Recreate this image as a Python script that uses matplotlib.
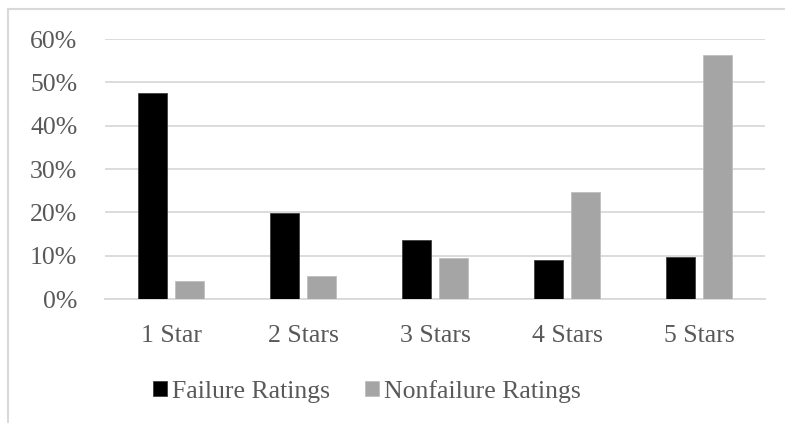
import matplotlib.pyplot as plt
import numpy as np
from matplotlib.lines import Line2D
from matplotlib.ticker import PercentFormatter

# Data
categories = ['1 Star', '2 Stars', '3 Stars', '4 Stars', '5 Stars']
failure = [0.476, 0.198, 0.136, 0.090, 0.096]
nonfailure = [0.042, 0.052, 0.094, 0.247, 0.562]

plt.rcParams['font.family'] = ['Liberation Serif', 'DejaVu Serif']

fig = plt.figure(figsize=(7.85, 4.23), dpi=100)
ax = fig.add_axes([0.1338, 0.2931, 0.8407, 0.6147])

x = np.arange(len(categories))
bar_width = 0.222
offset = 0.141

ax.bar(x - offset, failure, width=bar_width, color='black', edgecolor='#404040',
       linewidth=0.6, label='Failure Ratings', zorder=3)
ax.bar(x + offset, nonfailure, width=bar_width, color='#A5A5A5', edgecolor='#BFBFBF',
       linewidth=0.6, label='Nonfailure Ratings', zorder=3)

ax.set_xlim(-0.5, 4.5)
ax.set_ylim(0, 0.6)
ax.set_yticks(np.arange(0, 0.61, 0.1))
ax.yaxis.set_major_formatter(PercentFormatter(1.0, decimals=0))
ax.set_xticks(x)
ax.set_xticklabels(categories)

ax.grid(axis='y', color='#D9D9D9', linewidth=1.3, zorder=0)
for side in ['top', 'right', 'left']:
    ax.spines[side].set_visible(False)
ax.spines['bottom'].set_color('#D9D9D9')
ax.spines['bottom'].set_linewidth(1.3)
ax.tick_params(axis='both', length=0, labelsize=18.5, colors='#595959')
ax.tick_params(axis='y', pad=20)
ax.tick_params(axis='x', pad=19)

fig.legend(loc='center', bbox_to_anchor=(0.467, 0.075), ncol=2, frameon=False,
           fontsize=18.5, handlelength=0.55, handleheight=0.55, handletextpad=0.2,
           columnspacing=1.35, labelcolor='#595959')

# chart border (left and top only, cropped image)
fig.add_artist(Line2D([0.0108, 0.0108], [0, 0.979], transform=fig.transFigure,
                      color='#D9D9D9', linewidth=1.5))
fig.add_artist(Line2D([0.0108, 1.0], [0.979, 0.979], transform=fig.transFigure,
                      color='#D9D9D9', linewidth=1.5))

plt.savefig('out.png', dpi=100)
